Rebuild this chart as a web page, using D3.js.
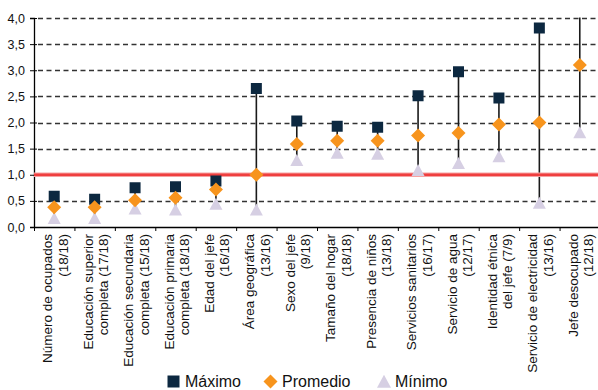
<!DOCTYPE html>
<html>
<head>
<meta charset="utf-8">
<script src="https://cdn.jsdelivr.net/npm/d3@7/dist/d3.min.js"></script>
<style>
  body { margin: 0; background: #fff; }
  svg { display: block; }
  text { font-family: "Liberation Sans", Arial, Helvetica, sans-serif; fill: #111; }
</style>
</head>
<body>
<svg id="chart" width="598" height="390"></svg>
<script>
// Category labels (each entry: lines of the rotated label)
const categories = [
  ["Número de ocupados", "(18/18)"],
  ["Educación superior", "completa (17/18)"],
  ["Educación secundaria", "completa (15/18)"],
  ["Educación primaria", "completa (18/18)"],
  ["Edad del jefe", "(16/18)"],
  ["Área geográfica", "(13/16)"],
  ["Sexo del jefe", "(9/18)"],
  ["Tamaño del hogar", "(18/18)"],
  ["Presencia de niños", "(13/18)"],
  ["Servicios sanitarios", "(16/17)"],
  ["Servicio de agua", "(12/17)"],
  ["Identidad étnica", "del jefe (7/9)"],
  ["Servicio de electricidad", "(13/16)"],
  ["Jefe desocupado", "(12/18)"]
];

// Series values
const maximo   = [0.59, 0.53, 0.75, 0.77, 0.88, 2.65, 2.03, 1.93, 1.91, 2.51, 2.97, 2.47, 3.81, 4.30];
const promedio = [0.38, 0.38, 0.51, 0.56, 0.72, 1.00, 1.59, 1.65, 1.65, 1.75, 1.80, 1.96, 2.00, 3.10];
const minimo   = [0.15, 0.15, 0.33, 0.31, 0.42, 0.31, 1.26, 1.40, 1.38, 1.07, 1.20, 1.33, 0.44, 1.79];

// Axis ticks and reference level
const yTicks = [0, 0.5, 1, 1.5, 2, 2.5, 3, 3.5, 4];
const yTickLabels = ["0,0", "0,5", "1,0", "1,5", "2,0", "2,5", "3,0", "3,5", "4,0"];
const referencia = 1.0;

const seriesNames = ["Máximo", "Promedio", "Mínimo"];

const colors = { max: "#0c2840", avg: "#f7941d", min: "#d6cfe3" };

const svg = d3.select("#chart");
const plotLeft = 34, plotRight = 600, plotTop = 18, plotBottom = 227;

const keys = categories.map((c, i) => i);
const x = d3.scaleBand().domain(keys).range([plotLeft, plotRight]).padding(0);
const y = d3.scaleLinear().domain([0, 4]).range([plotBottom, plotTop]);
const cx = i => x(i) + x.bandwidth() / 2;

svg.append("defs").append("clipPath").attr("id", "plot")
  .append("rect").attr("x", plotLeft).attr("y", plotTop - 0.5)
  .attr("width", plotRight - plotLeft).attr("height", plotBottom - plotTop + 8);

// Dashed gridlines
svg.append("g").selectAll("line")
  .data(yTicks.filter(t => t > 0))
  .join("line")
  .attr("x1", plotLeft + 4).attr("x2", 598)
  .attr("y1", d => Math.round(y(d)) + 0.5).attr("y2", d => Math.round(y(d)) + 0.5)
  .attr("stroke", "#333").attr("stroke-width", 1.3)
  .attr("stroke-dasharray", "5,3.5");

// Y axis
const yAxis = d3.axisLeft(y).tickValues(yTicks)
  .tickFormat((d, i) => yTickLabels[i]).tickSize(4).tickPadding(5);
const gy = svg.append("g").attr("transform", `translate(${plotLeft},0)`).call(yAxis);
gy.select(".domain").attr("stroke", "#000").attr("stroke-width", 1.3);
gy.selectAll(".tick line").attr("stroke", "#000").attr("x2", -4).attr("x1", 3);
gy.selectAll(".tick text").style("font-size", "12.5px").attr("fill", "#111")
  .style("font-family", "'Liberation Sans', Arial, sans-serif");

// X axis with band-edge ticks
const gx = svg.append("g").attr("transform", `translate(0,${plotBottom})`);
gx.append("line").attr("x1", plotLeft).attr("x2", 598).attr("y1", 0.5).attr("y2", 0.5)
  .attr("stroke", "#000").attr("stroke-width", 1.3);
gx.selectAll("line.tk").data(keys.concat([keys.length]))
  .join("line").attr("class", "tk")
  .attr("x1", i => (i < keys.length ? x(i) : plotRight) + 0.5)
  .attr("x2", i => (i < keys.length ? x(i) : plotRight) + 0.5)
  .attr("y1", 0).attr("y2", 4).attr("stroke", "#000").attr("stroke-width", 1);

// Rotated category labels
const lab = svg.append("g").selectAll("text").data(categories).join("text")
  .attr("transform", (d, i) => `translate(${cx(i) - 1},234) rotate(-90)`)
  .attr("text-anchor", "end")
  .style("font-size", "13.5px");
lab.selectAll("tspan").data(d => d).join("tspan")
  .attr("x", 0)
  .attr("y", (d, j) => j === 0 ? -1 : 14.5)
  .text(d => d);

// Range lines from minimum to maximum
svg.append("g").attr("clip-path", "url(#plot)")
  .selectAll("line").data(keys).join("line")
  .attr("x1", i => cx(i)).attr("x2", i => cx(i))
  .attr("y1", i => y(minimo[i])).attr("y2", i => y(maximo[i]))
  .attr("stroke", "#1a1a1a").attr("stroke-width", 1.6);

// Reference line at 1,0
svg.append("line").attr("x1", plotLeft).attr("x2", 598)
  .attr("y1", y(referencia)).attr("y2", y(referencia))
  .attr("stroke", "#f6a3a3").attr("stroke-width", 4.5);
svg.append("line").attr("x1", plotLeft).attr("x2", 598)
  .attr("y1", y(referencia)).attr("y2", y(referencia))
  .attr("stroke", "#ef3f3f").attr("stroke-width", 2.6);

// Marker shapes
const squarePath = s => `M${-s},${-s}H${s}V${s}H${-s}Z`;
const diamondPath = r => `M0,${-r}L${r},0L0,${r}L${-r},0Z`;
const trianglePath = (w, h) => `M0,${-h * 0.6}L${w / 2},${h * 0.4}L${-w / 2},${h * 0.4}Z`;

const marks = svg.append("g").attr("clip-path", "url(#plot)");

marks.selectAll("path.min").data(keys).join("path").attr("class", "min")
  .attr("d", trianglePath(13, 12))
  .attr("transform", i => `translate(${cx(i)},${y(minimo[i])})`)
  .attr("fill", colors.min);

marks.selectAll("path.max").data(keys).join("path").attr("class", "max")
  .attr("d", squarePath(5.5))
  .attr("transform", i => `translate(${cx(i)},${y(maximo[i])})`)
  .attr("fill", colors.max);

marks.selectAll("path.avg").data(keys).join("path").attr("class", "avg")
  .attr("d", diamondPath(7))
  .attr("transform", i => `translate(${cx(i)},${y(promedio[i])})`)
  .attr("fill", colors.avg);

// Legend
const lg = svg.append("g");
lg.append("path").attr("d", squarePath(6)).attr("transform", "translate(173.5,381.5)").attr("fill", colors.max);
lg.append("text").attr("x", 185).attr("y", 386.5).style("font-size", "16px").text(seriesNames[0]);
lg.append("path").attr("d", diamondPath(7)).attr("transform", "translate(270.5,381.5)").attr("fill", colors.avg);
lg.append("text").attr("x", 282).attr("y", 386.5).style("font-size", "16px").text(seriesNames[1]);
lg.append("path").attr("d", trianglePath(14, 13)).attr("transform", "translate(384,382.5)").attr("fill", colors.min);
lg.append("text").attr("x", 395).attr("y", 386.5).style("font-size", "16px").text(seriesNames[2]);
</script>
</body>
</html>
